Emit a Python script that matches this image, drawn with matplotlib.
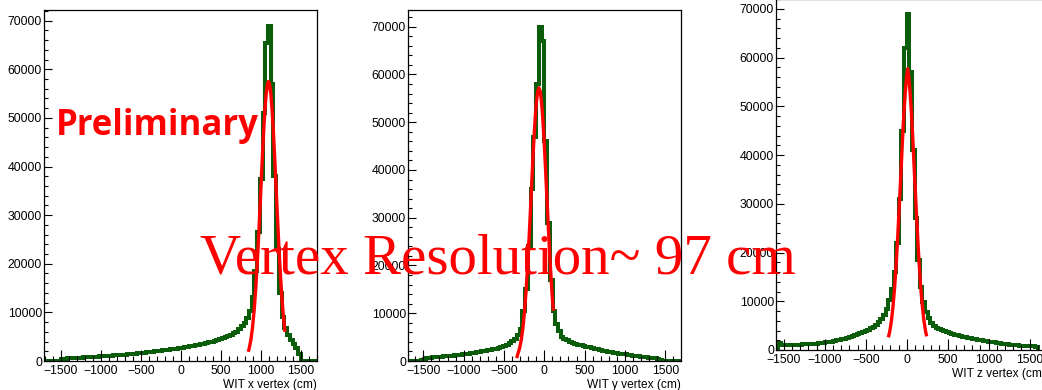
import matplotlib
matplotlib.use("Agg")
import matplotlib.pyplot as plt
import numpy as np
from matplotlib.ticker import MultipleLocator

# ---------------------------------------------------------------------------
# Data
# ---------------------------------------------------------------------------

# x vertex: 100 bins over -1700..1700
x_range = (-1700, 1700)
x_counts = [
    0, 0, 0, 0, 0, 0, 420, 480, 520, 560,
    600, 630, 660, 690, 720, 750, 780, 820, 860, 890,
    930, 970, 1010, 1050, 1090, 1140, 1180, 1230, 1280, 1330,
    1380, 1430, 1490, 1540, 1600, 1660, 1720, 1790, 1850, 1920,
    1990, 2060, 2130, 2200, 2280, 2350, 2420, 2490, 2560, 2640,
    2720, 2810, 2900, 3000, 3100, 3200, 3310, 3420, 3550, 3680,
    3820, 3970, 4130, 4300, 4480, 4680, 4900, 5150, 5420, 5700,
    6050, 6500, 7100, 7900, 8900, 10300, 13200, 18500, 26500, 37500,
    51000, 65500, 69000, 57000, 38000, 23000, 14000, 9000, 6800, 5400,
    4300, 3400, 2600, 1500, 0, 0, 0, 0, 0, 0,
]

# y vertex: 100 bins over -1700..1700
y_range = (-1700, 1700)
y_counts = [
    0, 0, 0, 0, 0, 150, 400, 600, 720, 780,
    830, 870, 910, 960, 1010, 1060, 1110, 1170, 1230, 1300,
    1380, 1450, 1530, 1610, 1700, 1790, 1890, 1990, 2100, 2210,
    2330, 2460, 2600, 2760, 2940, 3140, 3380, 3680, 4100, 4700,
    5500, 6800, 10500, 15000, 24000, 36000, 47000, 58000, 70000, 67000,
    46000, 29000, 17000, 10500, 7800, 6200, 5000, 4600, 4300, 4000,
    3800, 3600, 3450, 3300, 3150, 3000, 2850, 2700, 2560, 2430,
    2300, 2180, 2060, 1950, 1840, 1740, 1640, 1550, 1460, 1380,
    1300, 1220, 1150, 1080, 1010, 940, 870, 800, 730, 650,
    560, 450, 300, 0, 0, 0, 0, 0, 0, 0,
]

# z vertex: 101 bins over -1600..1632
z_range = (-1600, 1632)
z_counts = [
    0, 1400, 1100, 1050, 1050, 1050, 1060, 1080, 1100, 1120,
    1150, 1180, 1210, 1250, 1290, 1330, 1380, 1430, 1500, 1570,
    1650, 1740, 1840, 1950, 2070, 2200, 2340, 2490, 2650, 2820,
    3000, 3190, 3400, 3630, 3880, 4150, 4450, 4800, 5200, 5700,
    6300, 7200, 8500, 10200, 12500, 16000, 22000, 31000, 45000, 62000,
    69000, 57000, 41000, 27000, 18500, 13000, 9800, 7800, 6500, 5600,
    5000, 4600, 4300, 4050, 3850, 3650, 3480, 3320, 3170, 3020,
    2880, 2750, 2620, 2500, 2380, 2270, 2160, 2060, 1960, 1870,
    1780, 1700, 1620, 1540, 1470, 1400, 1330, 1270, 1200, 1120,
    1060, 1000, 960, 920, 880, 840, 800, 760, 730, 700,
    0,
]

# red fit curves
x_fit_x = [841, 854, 874, 894, 914, 934, 954, 974, 994, 1014, 1034, 1049, 1064, 1079,
           1094, 1109, 1124, 1139, 1154, 1174, 1194, 1214, 1234, 1254, 1274, 1294, 1300]
x_fit_y = [1900, 2700, 4400, 6900, 10300, 14800, 20300, 26800, 33800, 40900, 47500, 51600,
           54800, 56800, 57500, 56800, 54800, 51600, 47500, 40900, 33800, 26800, 20300,
           14800, 10300, 6900, 6000]

y_fit_x = [-342, -326, -306, -286, -266, -246, -226, -206, -186, -166, -146, -126, -111,
           -96, -81, -66, -51, -36, -21, -6, 14, 34, 54, 74, 94, 112]
y_fit_y = [600, 1600, 2700, 4400, 6800, 10200, 14700, 20200, 26600, 33600, 40700, 47300,
           51300, 54500, 56500, 57200, 56500, 54500, 51300, 47300, 40700, 33600, 26600,
           20200, 14700, 10500]

z_fit_x = [-224, -208, -188, -168, -148, -128, -108, -88, -68, -48, -33, -18, -3,
           12, 27, 42, 57, 72, 92, 112, 132, 152, 172, 192, 212, 232, 244]
z_fit_y = [2600, 3700, 5800, 8800, 12700, 17700, 23700, 30300, 37200, 44200, 48900,
           52600, 55800, 57700, 55800, 52600, 48900, 44200, 37200, 30300, 23700, 17700,
           12700, 8800, 5800, 3700, 2800]

x_labels = ["WIT x vertex (cm)", "WIT y vertex (cm)", "WIT z vertex (cm)"]

GREEN = "#0b5c0b"
RED = "#ff0000"

W, H = 1042, 390
fig = plt.figure(figsize=(W / 100, H / 100), dpi=100)
fig.patch.set_facecolor("white")


def px_axes(left, right, top, bottom):
    return fig.add_axes([left / W, (H - bottom) / H, (right - left) / W, (bottom - top) / H])


panels = [
    # axes box (px), xlim, ylim, hist range, counts, fit x, fit y
    ((44, 317, 10, 361), (-1712, 1700), (0, 72200), x_range, x_counts, x_fit_x, x_fit_y),
    ((408, 681, 10, 361), (-1690, 1695), (0, 73500), y_range, y_counts, y_fit_x, y_fit_y),
    ((776, 1046, -1, 350), (-1595, 1700), (0, 72000), z_range, z_counts, z_fit_x, z_fit_y),
]

for (box, xlim, ylim, hrange, counts, fx, fy), xlab in zip(panels, x_labels):
    ax = px_axes(*box)
    edges = np.linspace(hrange[0], hrange[1], len(counts) + 1)
    ax.stairs(counts, edges, color=GREEN, lw=2.9, baseline=0)
    ax.plot(fx, fy, color=RED, lw=2.4, solid_capstyle="butt")
    ax.set_xlim(*xlim)
    ax.set_ylim(*ylim)

    ax.xaxis.set_major_locator(MultipleLocator(500))
    ax.xaxis.set_minor_locator(MultipleLocator(100))
    ax.yaxis.set_major_locator(MultipleLocator(10000))
    ax.yaxis.set_minor_locator(MultipleLocator(2000))
    ax.tick_params(axis="x", which="major", direction="in", length=7.6, width=0.8, pad=3)
    ax.tick_params(axis="x", which="minor", direction="in", length=3.8, width=0.8)
    ax.tick_params(axis="y", which="major", direction="in", length=6.0, width=0.8, pad=1.5)
    ax.tick_params(axis="y", which="minor", direction="in", length=3.0, width=0.8)
    ax.tick_params(labelsize=8.8)
    for lab in ax.get_xticklabels() + ax.get_yticklabels():
        lab.set_fontfamily("Liberation Sans")
    for sp in ax.spines.values():
        sp.set_linewidth(0.9)
        sp.set_color("black")

    ax.set_xlabel(xlab, fontsize=8.6, family="Liberation Sans", loc="right", labelpad=1)

fig.text(56 / W, (H - 135) / H, "Preliminary", color=RED, fontsize=25,
         fontweight="bold", family="Open Sans", ha="left", va="baseline")
fig.text(200 / W, (H - 274) / H, "Vertex Resolution~ 97 cm", color=RED, fontsize=41,
         family="Liberation Serif", ha="left", va="baseline")

plt.savefig("out.png", dpi=100, facecolor="white")
plt.close()
